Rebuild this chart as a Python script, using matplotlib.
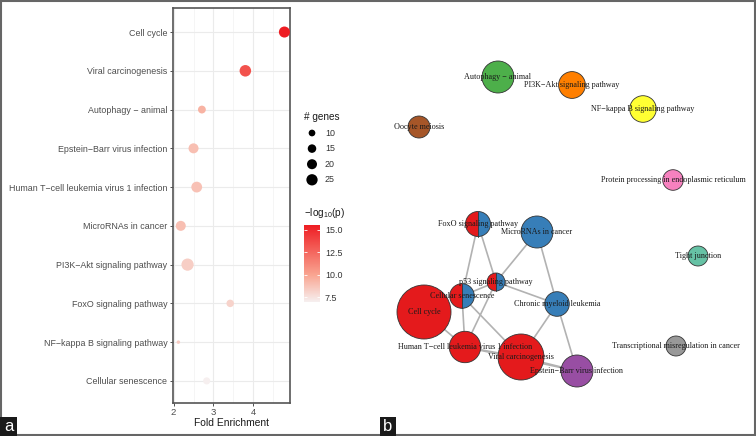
import numpy as np
import matplotlib
matplotlib.use('Agg')
import matplotlib.pyplot as plt
from matplotlib.colors import LinearSegmentedColormap, Normalize
from matplotlib.cm import ScalarMappable
from matplotlib.patches import Circle, Wedge, Rectangle
from matplotlib.ticker import FormatStrFormatter

plt.rcParams['font.family'] = ['Liberation Sans', 'DejaVu Sans']
plt.rcParams['mathtext.default'] = 'regular'

# ---- panel a : enrichment dot plot ----
pathways = ['Cell cycle', 'Viral carcinogenesis', 'Autophagy \u2212 animal',
            'Epstein\u2212Barr virus infection', 'Human T\u2212cell leukemia virus 1 infection',
            'MicroRNAs in cancer', 'PI3K\u2212Akt signaling pathway', 'FoxO signaling pathway',
            'NF\u2212kappa B signaling pathway', 'Cellular senescence']
fold = [4.78, 3.80, 2.71, 2.50, 2.58, 2.18, 2.35, 3.42, 2.12, 2.83]
genes = [24, 26, 13, 20, 23, 20, 29, 12, 4, 11]
logp = [15.55, 13.4, 9.4, 8.9, 8.8, 8.9, 8.3, 8.1, 8.4, 6.95]
size_breaks = [10, 15, 20, 25]
logp_ticks = [7.5, 10.0, 12.5, 15.0]

# ---- panel b : pathway network ----
node_names = ['Autophagy \u2212 animal', 'PI3K\u2212Akt signaling pathway', 'NF\u2212kappa B signaling pathway',
              'Oocyte meiosis', 'Protein processing in endoplasmic reticulum', 'FoxO signaling pathway',
              'MicroRNAs in cancer', 'Tight junction', 'p53 signaling pathway', 'Cellular senescence',
              'Cell cycle', 'Chronic myeloid leukemia', 'Human T\u2212cell leukemia virus 1 infection',
              'Viral carcinogenesis', 'Epstein\u2212Barr virus infection',
              'Transcriptional misregulation in cancer']
node_x = [498, 572, 643, 419, 673, 478, 537, 698, 496, 462, 424, 557, 465, 521, 577, 676]
node_y = [77, 85, 109, 127, 180, 224, 232, 256, 282, 296, 312, 304, 347, 357, 371, 346]
node_r = [16, 13.4, 13.3, 11, 10.3, 12.5, 16, 10, 9, 12.3, 27, 12.3, 15.7, 23, 16, 10]
node_col = ['#4DAF4A', '#FF7F00', '#FFFF33', '#A65628', '#F781BF', 'pie', '#377EB8', '#66C2A5',
            'pie', 'pie', '#E41A1C', '#377EB8', '#E41A1C', '#E41A1C', '#984EA3', '#999999']
edges = [('FoxO signaling pathway', 'Cellular senescence'),
         ('FoxO signaling pathway', 'p53 signaling pathway'),
         ('MicroRNAs in cancer', 'p53 signaling pathway'),
         ('MicroRNAs in cancer', 'Chronic myeloid leukemia'),
         ('p53 signaling pathway', 'Cellular senescence'),
         ('p53 signaling pathway', 'Chronic myeloid leukemia'),
         ('p53 signaling pathway', 'Human T\u2212cell leukemia virus 1 infection'),
         ('Cellular senescence', 'Human T\u2212cell leukemia virus 1 infection'),
         ('Cellular senescence', 'Viral carcinogenesis'),
         ('Cell cycle', 'Human T\u2212cell leukemia virus 1 infection'),
         ('Human T\u2212cell leukemia virus 1 infection', 'Viral carcinogenesis'),
         ('Human T\u2212cell leukemia virus 1 infection', 'Epstein\u2212Barr virus infection'),
         ('Chronic myeloid leukemia', 'Viral carcinogenesis'),
         ('Chronic myeloid leukemia', 'Epstein\u2212Barr virus infection'),
         ('Viral carcinogenesis', 'Epstein\u2212Barr virus infection')]


def dot_size(g):
    d = np.sqrt(45 + 5.5 * (np.asarray(g, float) - 10))
    return (d * 0.72) ** 2


W, H = 756, 436
fig = plt.figure(figsize=(W / 100, H / 100), dpi=100)

# background axes in pixel units (network, frame, panel tags)
axn = fig.add_axes([0, 0, 1, 1])
axn.set_xlim(0, W)
axn.set_ylim(H, 0)
axn.axis('off')

pos = {n: (x, y) for n, x, y in zip(node_names, node_x, node_y)}
for a, b in edges:
    axn.plot([pos[a][0], pos[b][0]], [pos[a][1], pos[b][1]], color='#B2B2B2', lw=1.2, zorder=1)
for n, x, y, r, c in zip(node_names, node_x, node_y, node_r, node_col):
    if c == 'pie':
        axn.add_patch(Wedge((x, y), r, 90, 270, fc='#E41A1C', ec='none', zorder=2))
        axn.add_patch(Wedge((x, y), r, 270, 90, fc='#377EB8', ec='none', zorder=2))
        axn.plot([x, x], [y - r, y + r], color='#333333', lw=0.6, zorder=3)
        axn.add_patch(Circle((x, y), r, fc='none', ec='#333333', lw=0.6, zorder=3))
    else:
        axn.add_patch(Circle((x, y), r, fc=c, ec='#333333', lw=0.6, zorder=2))
for n, x, y in zip(node_names, node_x, node_y):
    axn.text(x, y, n, ha='center', va='center', fontsize=5.9, color='#1A1A1A',
             family=['Liberation Serif', 'DejaVu Serif'], zorder=5)

axn.add_patch(Rectangle((1, 1), W - 2.5, H - 2.5, fill=False, ec='#666666', lw=1.5, zorder=6))
axn.add_patch(Rectangle((0, 417), 17, 19, fc='#1A1A1A', ec='none', zorder=7))
axn.text(8.5, 426, 'a', color='white', fontsize=12, ha='center', va='center', zorder=8)
axn.add_patch(Rectangle((380, 417), 16, 19, fc='#1A1A1A', ec='none', zorder=7))
axn.text(388, 426, 'b', color='white', fontsize=12, ha='center', va='center', zorder=8)

# size legend
axn.text(304, 117, '# genes', fontsize=7.2, color='#1A1A1A', va='center', ha='left')
for i, g in enumerate(size_breaks):
    yy = 133 + 15.6 * i
    axn.scatter(312, yy, s=dot_size(g), color='black', edgecolors='none')
    axn.text(325, yy, str(g), fontsize=6.4, color='#333333', va='center', ha='left')
axn.text(304, 213, '\u2212log$_{10}$(p)', fontsize=7.2, color='#1A1A1A', va='center', ha='left')

# dot plot
cmap = LinearSegmentedColormap.from_list('wr', [(0, '#F6EFEF'), (0.35, '#F9A591'), (1, '#EE1D23')])
norm = Normalize(min(logp), max(logp))
ypos = np.arange(len(pathways))

ax = fig.add_axes([173 / W, 1 - 403 / H, 117 / W, 395 / H])
ax.set_facecolor('white')
ax.scatter(fold, ypos, s=dot_size(genes), c=logp, cmap=cmap, norm=norm, edgecolors='none', zorder=3)
ax.set_xlim(1.985, 4.92)
ax.set_ylim(len(pathways) - 0.43, -0.62)
ax.set_xticks([2, 3, 4])
ax.set_xticks([2.5, 3.5, 4.5], minor=True)
ax.set_yticks(ypos)
ax.set_yticklabels(pathways)
ax.grid(True, which='major', color='#EBEBEB', lw=0.8, zorder=0)
ax.grid(True, which='minor', axis='x', color='#F2F2F2', lw=0.5, zorder=0)
ax.set_axisbelow(True)
ax.tick_params(axis='y', which='major', length=2.5, width=0.6, color='#333333',
               labelsize=6.4, labelcolor='#4D4D4D', pad=1.5)
ax.tick_params(axis='x', which='major', length=2.5, width=0.6, color='#333333',
               labelsize=6.8, labelcolor='#4D4D4D', pad=1.0)
ax.tick_params(which='minor', length=0)
for s in ax.spines.values():
    s.set_color('#555555')
    s.set_linewidth(1.2)
ax.set_xlabel('Fold Enrichment', fontsize=7.4, color='#1A1A1A', labelpad=1.0)

cax = fig.add_axes([304 / W, 1 - 302 / H, 16 / W, 77 / H])
cb = fig.colorbar(ScalarMappable(norm=norm, cmap=cmap), cax=cax, ticks=logp_ticks)
cb.outline.set_visible(False)
cax.yaxis.set_major_formatter(FormatStrFormatter('%.1f'))
cax.tick_params(direction='in', left=True, right=True, labelleft=False, labelright=True,
                length=2.5, width=0.6, color='white', labelsize=6.4, labelcolor='#333333', pad=3.5)

fig.savefig('out.png', dpi=100)
